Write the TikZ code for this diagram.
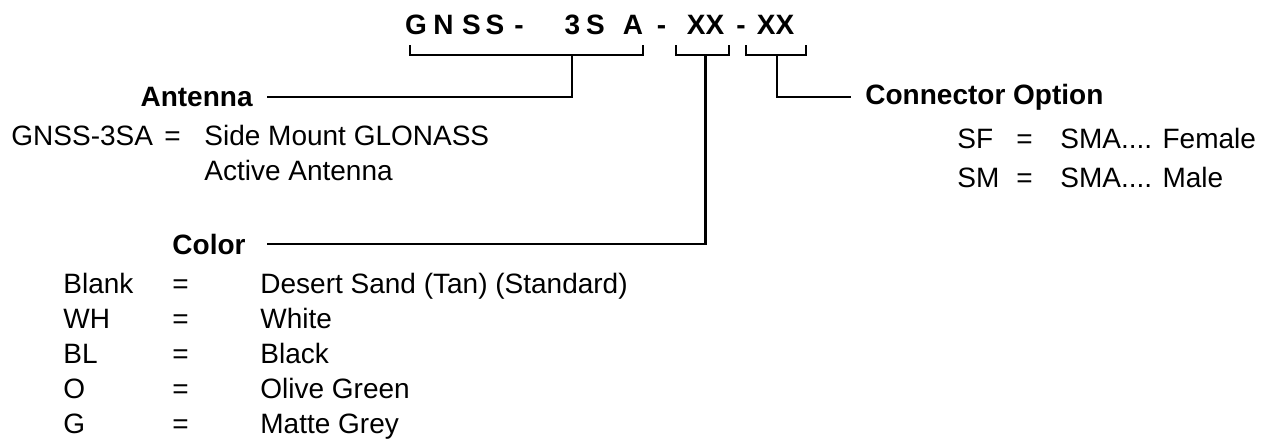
\documentclass[tikz,border=0pt]{standalone}
\usepackage{fontspec}
\setmainfont{Liberation Sans}
\usetikzlibrary{calc}
\tikzset{
  pn/.style={font=\fontsize{14}{17}\selectfont\bfseries,inner sep=0pt,anchor=base}, % part number letters
  head/.style={font=\fontsize{14}{17}\selectfont\bfseries,inner xsep=7pt,inner ysep=0pt}, % section heading
  entry/.style={font=\fontsize{14}{17}\selectfont,inner sep=0pt,anchor=base west}, % list text
  bar/.style={line width=1.3pt,black}, % bracket / leader line
}
\newcommand{\codebracket}[2]{% left end, right end
  \draw[bar] (#1) -- ++(0,10) -| (#2);
}

\begin{document}
\begin{tikzpicture}[x=0.5pt,y=-0.5pt]
  \useasboundingbox (0,0) rectangle (1275,439);
  % part number
  \foreach \c/\x [count=\i] in {G/416,N/443.5,S/471.5,S/495,-/519,3/572.5,S/595.5,A/633,-/661.5,XX/705.5,-/741,XX/775.5}
    \node[pn] (t\i) at (\x,34) {\c};
  % brackets under the fields
  \coordinate (b1l) at (410,45); \coordinate (b1r) at (643,45);
  \coordinate (b2l) at (676,45); \coordinate (b2r) at (729,45);
  \coordinate (b3l) at (746,45); \coordinate (b3r) at (806,45);
  \codebracket{b1l}{b1r}
  \codebracket{b2l}{b2r}
  \codebracket{b3l}{b3r}
  \coordinate (s1) at (572,55);
  \coordinate (s2) at (705.5,55);
  \coordinate (s3) at (777,55);
  % antenna
  \node[head,anchor=east] (ant) at (267,97) {Antenna};
  \node[entry] (antkey) at (11,145) {GNSS-3SA};
  \node[entry] (anteq) at (164,145) {=};
  \node[entry] (antval) at (204,145) {Side Mount GLONASS};
  \node[entry] (antval2) at (204,180) {Active Antenna};
  \draw[bar] (s1) |- (ant.east);
  % connector option
  \node[head,anchor=west] (con) at (851,97) {Connector Option};
  \node[entry] (sfkey) at (957,148) {SF};
  \node[entry] (sfeq) at (1016,148) {=};
  \node[entry] (sfval) at (1060,148) {SMA.... Female};
  \node[entry] (smkey) at (957,187) {SM};
  \node[entry] (smeq) at (1016,187) {=};
  \node[entry] (smval) at (1060,187) {SMA.... Male};
  \draw[bar] (s3) |- (con.west);
  % color
  \node[head,anchor=east,inner xsep=10.5pt] (col) at (267,244) {Color};
  \foreach \k/\v [count=\i] in {Blank/Desert Sand (Tan) (Standard),WH/White,BL/Black,O/Olive Green,G/Matte Grey}{
    \node[entry] (ck\i) at (63,258+35*\i) {\k};
    \node[entry] (ce\i) at (172,258+35*\i) {=};
    \node[entry] (cv\i) at (260,258+35*\i) {\v};
  }
  \draw[bar] (s2) |- (col.east);
\end{tikzpicture}
\end{document}
